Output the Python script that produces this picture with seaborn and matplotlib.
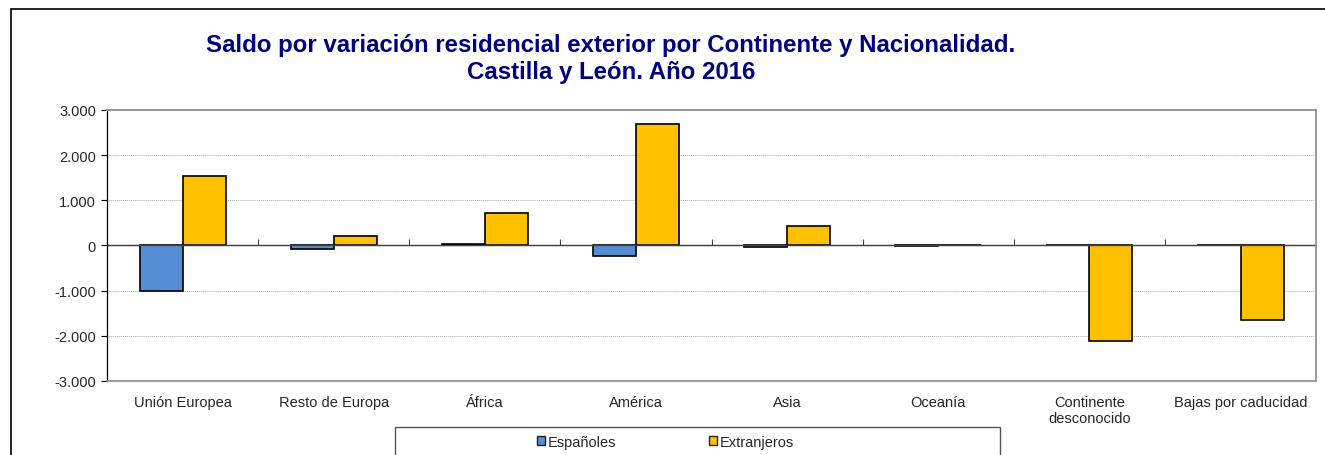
import pandas as pd
import matplotlib
matplotlib.use("Agg")
import matplotlib.pyplot as plt
import seaborn as sns
from matplotlib.patches import Rectangle

CATEGORIES = ["Unión Europea", "Resto de Europa", "África", "América", "Asia",
              "Oceanía", "Continente\ndesconocido", "Bajas por caducidad"]
ESPANOLES = [-1005, -85, 30, -225, -35, -20, 0, 0]
EXTRANJEROS = [1540, 210, 720, 2690, 440, 15, -2110, -1650]
SERIES = ["Españoles", "Extranjeros"]
COLORS = ["#558ED5", "#FFC000"]
YTICKS = [-3000, -2000, -1000, 0, 1000, 2000, 3000]
YLABELS = ["-3.000", "-2.000", "-1.000", "0", "1.000", "2.000", "3.000"]
TITLE = "Saldo por variación residencial exterior por Continente y Nacionalidad.\nCastilla y León. Año 2016"


def build_df():
    rows = []
    for cat, e, x in zip(CATEGORIES, ESPANOLES, EXTRANJEROS):
        rows.append({"cat": cat, "serie": SERIES[0], "valor": e})
        rows.append({"cat": cat, "serie": SERIES[1], "valor": x})
    return pd.DataFrame(rows)


def main():
    sns.set_style("white")
    plt.rcParams["font.family"] = ["Liberation Sans", "DejaVu Sans"]
    df = build_df()

    fig = plt.figure(figsize=(13.25, 4.56), dpi=100)
    ax = fig.add_axes([0.0808, 0.1623, 0.9125, 0.5943])

    sns.barplot(data=df, x="cat", y="valor", hue="serie", order=CATEGORIES,
                hue_order=SERIES, palette=COLORS, saturation=1, width=0.57, ax=ax,
                edgecolor="black", linewidth=1.2, errorbar=None, legend=True)

    ax.set_ylim(-3000, 3000)
    ax.set_xlim(-0.5, len(CATEGORIES) - 0.5)
    ax.set_yticks(YTICKS)
    ax.set_yticklabels(YLABELS, fontsize=10.5)
    ax.tick_params(axis="y", length=4, width=0.8, color="black", left=True, pad=4)
    ax.tick_params(axis="x", length=0, labelsize=10.5, pad=10)
    ax.set_xlabel("")
    ax.set_ylabel("")
    ax.yaxis.grid(True, linestyle=(0, (1, 1)), color="#aaaaaa", linewidth=0.7)
    ax.set_axisbelow(True)

    for side in ["top", "right", "bottom"]:
        ax.spines[side].set_color("#888888")
        ax.spines[side].set_linewidth(1.2)
    ax.spines["left"].set_color("black")
    ax.spines["left"].set_linewidth(0.9)

    # category axis crossing at zero
    ax.axhline(0, color="#444444", linewidth=1.0, zorder=1)
    sec = ax.secondary_xaxis(0.5)
    sec.set_xticks([i + 0.5 for i in range(len(CATEGORIES) - 1)])
    sec.set_xticklabels([])
    sec.tick_params(length=4, width=0.8, color="#444444")
    sec.spines["bottom"].set_visible(False)

    handles, labels = ax.get_legend_handles_labels()
    ax.get_legend().remove()
    leg = fig.legend(handles, labels, loc="center left",
                     bbox_to_anchor=(530 / 1325, 1 - 443 / 456),
                     ncol=2, frameon=False, fontsize=10.5, borderpad=0,
                     handlelength=0.55, handleheight=0.55, handletextpad=0.2,
                     columnspacing=6.3)
    for h in leg.legend_handles:
        h.set_linewidth(1.0)
        h.set_edgecolor("#222222")

    fig.patches.append(Rectangle((395 / 1325, -0.05), 605 / 1325, 0.05 + 1 - 428 / 456,
                                 transform=fig.transFigure, fill=False,
                                 edgecolor="#555555", linewidth=1.0))

    fig.text(0.461, 0.870, TITLE, ha="center", va="center", fontsize=17.3,
             fontweight="bold", color="#000080", linespacing=1.2)

    fig.patches.append(Rectangle((0.0083, -0.1), 1.2, 1.078, transform=fig.transFigure,
                                 fill=False, edgecolor="black", linewidth=1.2))

    fig.savefig("out.png", dpi=100)


main()
